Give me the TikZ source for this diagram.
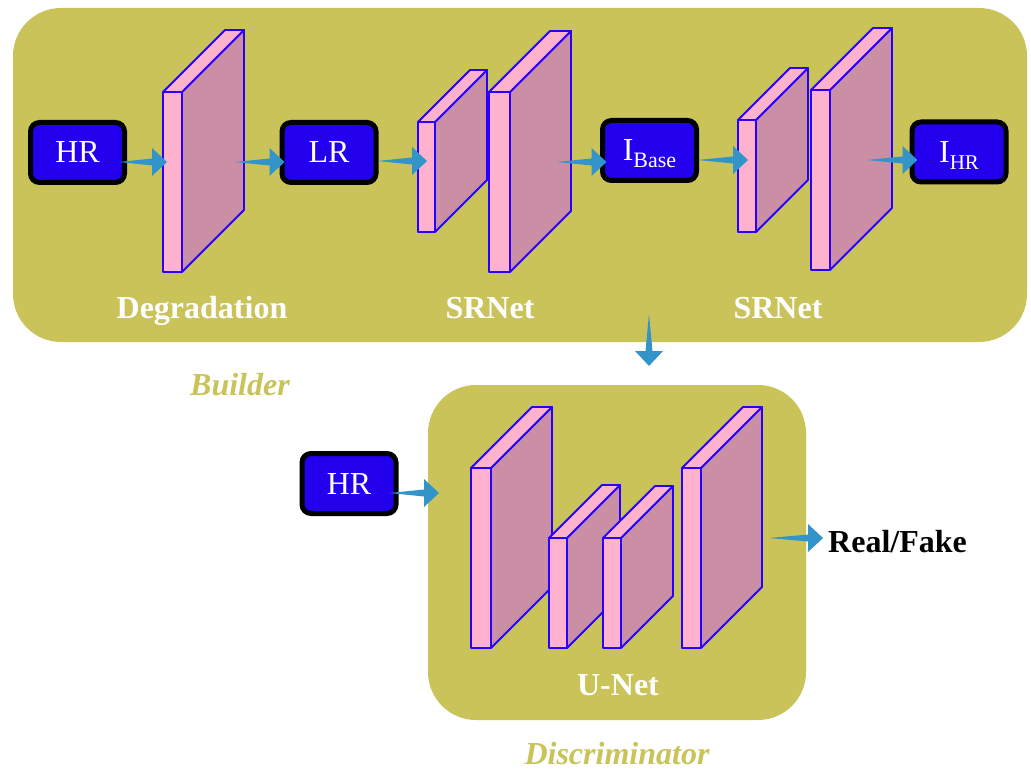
\documentclass[tikz,border=0pt]{standalone}
\usepackage{fontspec}
\setmainfont{Liberation Serif}
\usetikzlibrary{calc}

\definecolor{panel}{RGB}{201,195,90}
\definecolor{boxblue}{RGB}{34,0,238}
\definecolor{slabline}{RGB}{40,0,255}
\definecolor{slabfront}{RGB}{255,178,206}
\definecolor{slabside}{RGB}{203,143,165}
\definecolor{flow}{RGB}{50,148,200}

\tikzset{
  panelbox/.style={fill=panel, rounded corners=48pt},
  tensor/.style={draw=black, line width=5pt, fill=boxblue, rounded corners=9pt,
    text=white, minimum width=94pt, minimum height=60pt, inner sep=0pt,
    text height=21pt, text depth=0pt, font=\fontsize{32}{36}\selectfont},
  stage/.style={text=white, anchor=base, inner sep=0pt,
    font=\fontsize{32}{36}\selectfont\bfseries},
  group/.style={text=panel, anchor=base, inner sep=0pt,
    font=\fontsize{32}{36}\selectfont\bfseries\itshape},
  verdict/.style={text=black, anchor=base west, inner sep=0pt,
    font=\fontsize{32}{36}\selectfont\bfseries},
  face/.style={draw=slabline, line width=1.8pt, line join=round},
}

% a feature-map slab: name, x-left, x-right, y-top, y-bottom, depth
\newcommand\slab[6]{%
  \filldraw[face, fill=slabside] (#3,#4) -- (#3+#6,#4-#6) -- (#3+#6,#5-#6) -- (#3,#5) -- cycle;
  \filldraw[face, fill=slabfront] (#2,#4) -- (#2+#6,#4-#6) -- (#3+#6,#4-#6) -- (#3,#4) -- cycle;
  \filldraw[face, fill=slabfront] (#2,#4) rectangle (#3,#5);
  \coordinate (#1) at (#2,#4);
}

% tapered flow arrow from one point to another
\newcommand\flowarrow[2]{%
  \path let \p1=(#1), \p2=(#2),
    \n1={atan2(\y2-\y1,\x2-\x1)}, \n2={veclen(\x2-\x1,\y2-\y1)} in
    \pgfextra{\xdef\flowAng{\n1}\xdef\flowLen{\n2}\xdef\flowX{\x1}\xdef\flowY{\y1}};
  \pgfmathsetmacro\flowA{\flowAng}%
  \pgfmathsetmacro\flowL{\flowLen}%
  \pgfmathsetmacro\flowBase{\flowL-15}%
  \fill[flow, shift={(\flowX,\flowY)}, rotate=\flowA]
    (0pt,0pt) -- (\flowBase pt,3.5pt) -- (\flowBase pt,14pt) -- (\flowL pt,0pt)
    -- (\flowBase pt,-14pt) -- (\flowBase pt,-3.5pt) -- cycle;
}

\begin{document}
\begin{tikzpicture}[x=1pt,y=-1pt]
\useasboundingbox (0,0) rectangle (1031,770);

% group panels
\fill[panelbox] (13,8) rectangle (1027,342);
\fill[panelbox] (428,385) rectangle (806,720);
\node[group] (builder) at (240,395) {Builder};
\node[group] (disc) at (617,764) {Discriminator};

% builder: degradation and two super-resolution stages
\slab{deg}{163}{182}{92}{272}{62}
\slab{srA}{418}{435}{122}{232}{52}
\slab{srB}{489}{510}{92}{272}{61}
\slab{srC}{738}{756}{120}{232}{52}
\slab{srD}{811}{830}{90}{270}{62}

\node[stage] (degl) at (202,318) {Degradation};
\node[stage] (srl1) at (490,318) {SRNet};
\node[stage] (srl2) at (778,318) {SRNet};

% discriminator U-Net
\slab{uA}{471}{491}{468}{648}{61}
\slab{uB}{549}{567}{538}{648}{53}
\slab{uC}{603}{621}{538}{648}{52}
\slab{uD}{682}{701}{468}{648}{61}
\node[stage] (unetl) at (618,695) {U-Net};

% image tensors
\node[tensor] (hr1) at (77.5,152.5) {HR};
\node[tensor] (lr) at (329,152.5) {LR};
\node[tensor] (ibase) at (649.5,150.5) {I\raisebox{-7pt}{\fontsize{22}{24}\selectfont Base}};
\node[tensor] (ihr) at (959,152) {I\raisebox{-7pt}{\fontsize{21}{24}\selectfont HR}};
\node[tensor] (hr2) at (349,483.5) {HR};
\node[verdict] (rf) at (828,552) {Real/Fake};

% arrow end points on the slabs
\coordinate (degIn) at (167,162);
\coordinate (degOut) at (235,162);
\coordinate (srIn) at (427,161);
\coordinate (srOut) at (557,162);
\coordinate (sr2In) at (748,160);
\coordinate (sr2Out) at (867,160);
\coordinate (builderOut) at (649,314);
\coordinate (discTop) at (649,366);
\coordinate (unetIn) at (439,493);
\coordinate (unetOut) at (769,538);

% data flow
\flowarrow{$(hr1.east)+(-8,9.5)$}{degIn}
\flowarrow{degOut}{$(lr.west)+(5,9.5)$}
\flowarrow{$(lr.east)+(-1,8.5)$}{srIn}
\flowarrow{srOut}{$(ibase.west)+(6.5,11.5)$}
\flowarrow{$(ibase.east)+(-1.5,9.5)$}{sr2In}
\flowarrow{sr2Out}{$(ihr.west)+(8,8)$}
\flowarrow{builderOut}{discTop}
\flowarrow{$(hr2.east)+(-9,9.5)$}{unetIn}
\flowarrow{unetOut}{$(rf.west)+(-5,-3)$}
\end{tikzpicture}
\end{document}
